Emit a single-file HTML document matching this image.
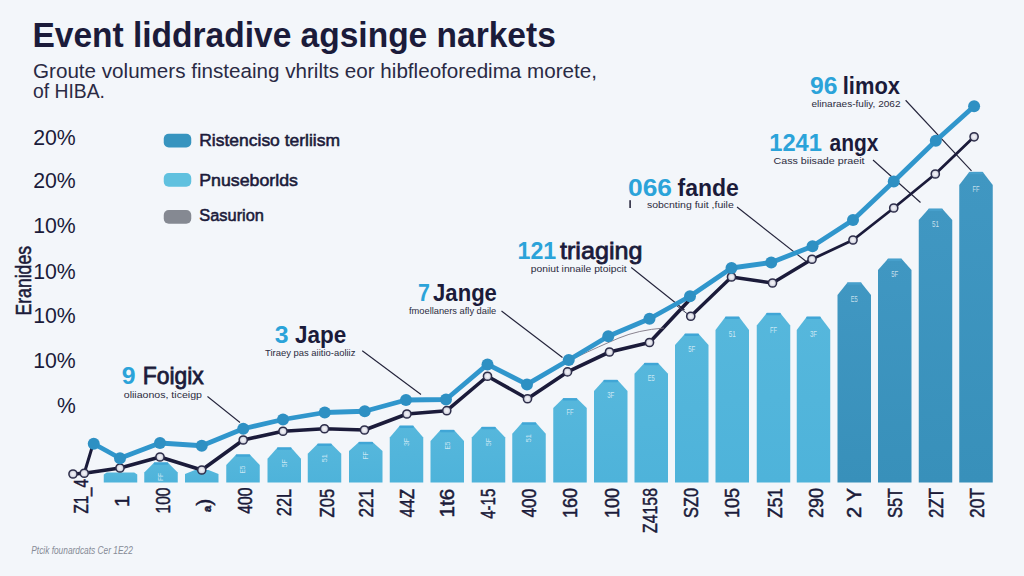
<!DOCTYPE html>
<html><head><meta charset="utf-8"><title>Event chart</title>
<style>
html,body{margin:0;padding:0;background:#f3f6fa;}
body{width:1024px;height:576px;overflow:hidden;font-family:"Liberation Sans",sans-serif;}
svg{display:block;}
text{font-family:"Liberation Sans",sans-serif;}
</style></head><body>
<svg width="1024" height="576" viewBox="0 0 1024 576">
<defs>
<linearGradient id="gl" x1="0" y1="0" x2="0" y2="1"><stop offset="0" stop-color="#56b7dc"/><stop offset="1" stop-color="#4eb3da"/></linearGradient>
<linearGradient id="gd" x1="0" y1="0" x2="0" y2="1"><stop offset="0" stop-color="#4097c2"/><stop offset="1" stop-color="#3890ba"/></linearGradient>
<radialGradient id="mk" cx="0.5" cy="0.5" r="0.5"><stop offset="0" stop-color="#f6f6fa"/><stop offset="0.55" stop-color="#e2e2ea"/><stop offset="1" stop-color="#a9adc0"/></radialGradient>
</defs>
<rect x="0" y="0" width="1024" height="576" fill="#f3f6fa"/>
<text x="32.40" y="46.90" font-size="35" fill="#1b1b3a" font-weight="bold" font-style="normal" textLength="523.40" lengthAdjust="spacingAndGlyphs">Event liddradive agsinge narkets</text>
<text x="33.00" y="78.00" font-size="20.5" fill="#2a2a44" font-weight="normal" font-style="normal" textLength="564.00" lengthAdjust="spacingAndGlyphs">Groute volumers finsteaing vhrilts eor hibfleoforedima morete,</text>
<text x="33.00" y="97.80" font-size="20.5" fill="#2a2a44" font-weight="normal" font-style="normal" textLength="72.00" lengthAdjust="spacingAndGlyphs">of HIBA.</text>
<text x="33.20" y="144.50" font-size="21.5" fill="#1b1b3a" font-weight="normal" font-style="normal" textLength="42.60" lengthAdjust="spacingAndGlyphs">20%</text>
<text x="33.20" y="188.25" font-size="21.5" fill="#1b1b3a" font-weight="normal" font-style="normal" textLength="42.60" lengthAdjust="spacingAndGlyphs">20%</text>
<text x="33.20" y="233.25" font-size="21.5" fill="#1b1b3a" font-weight="normal" font-style="normal" textLength="42.60" lengthAdjust="spacingAndGlyphs">10%</text>
<text x="33.20" y="278.50" font-size="21.5" fill="#1b1b3a" font-weight="normal" font-style="normal" textLength="42.60" lengthAdjust="spacingAndGlyphs">10%</text>
<text x="33.20" y="322.90" font-size="21.5" fill="#1b1b3a" font-weight="normal" font-style="normal" textLength="42.60" lengthAdjust="spacingAndGlyphs">10%</text>
<text x="33.20" y="368.40" font-size="21.5" fill="#1b1b3a" font-weight="normal" font-style="normal" textLength="42.60" lengthAdjust="spacingAndGlyphs">10%</text>
<text x="57.00" y="412.80" font-size="21.5" fill="#1b1b3a" font-weight="normal" font-style="normal" textLength="18.80" lengthAdjust="spacingAndGlyphs">%</text>
<g transform="translate(31,315.5) rotate(-90)"><text x="0.00" y="0.00" font-size="22" fill="#1b1b3a" font-weight="normal" font-style="normal" textLength="69.50" lengthAdjust="spacingAndGlyphs" stroke="#1b1b3a" stroke-width="0.55">Eranides</text></g>
<rect x="163.75" y="133.75" width="27.5" height="13.75" rx="5" ry="5" fill="#3794bf"/>
<text x="199.25" y="146.25" font-size="16.8" fill="#1b1b3a" font-weight="normal" font-style="normal" textLength="140.75" lengthAdjust="spacingAndGlyphs" stroke="#1b1b3a" stroke-width="0.55">Ristenciso terliism</text>
<rect x="163.75" y="173.00" width="27.5" height="13.75" rx="5" ry="5" fill="#60c1df"/>
<text x="199.25" y="185.50" font-size="16.8" fill="#1b1b3a" font-weight="normal" font-style="normal" textLength="98.75" lengthAdjust="spacingAndGlyphs" stroke="#1b1b3a" stroke-width="0.55">Pnuseborlds</text>
<rect x="163.75" y="210.00" width="27.5" height="13.75" rx="5" ry="5" fill="#858992"/>
<text x="199.25" y="221.25" font-size="16.8" fill="#1b1b3a" font-weight="normal" font-style="normal" textLength="64.75" lengthAdjust="spacingAndGlyphs" stroke="#1b1b3a" stroke-width="0.55">Sasurion</text>
<polygon points="103.75,482.50 103.75,474.50 106.75,472.50 134.25,472.50 137.25,474.50 137.25,482.50" fill="url(#gl)"/>
<polygon points="144.25,482.50 144.25,472.50 154.25,462.50 167.75,462.50 177.75,472.50 177.75,482.50" fill="url(#gl)"/>
<rect x="153.75" y="462.20" width="14.50" height="2.6" rx="1" fill="#3aa0d4" fill-opacity="0.75"/>
<g transform="translate(163.40,477.00) rotate(-90)"><text x="0" y="0" font-size="7" fill="#ffffff" fill-opacity="0.7" text-anchor="middle" textLength="8" lengthAdjust="spacingAndGlyphs">FF</text></g>
<polygon points="185.00,482.50 185.00,474.00 195.00,470.00 208.50,470.00 218.50,474.00 218.50,482.50" fill="url(#gl)"/>
<polygon points="226.25,482.50 226.25,465.00 236.25,454.50 249.75,454.50 259.75,465.00 259.75,482.50" fill="url(#gl)"/>
<rect x="235.75" y="454.20" width="14.50" height="2.6" rx="1" fill="#3aa0d4" fill-opacity="0.75"/>
<g transform="translate(245.40,469.50) rotate(-90)"><text x="0" y="0" font-size="7" fill="#ffffff" fill-opacity="0.7" text-anchor="middle" textLength="8" lengthAdjust="spacingAndGlyphs">E5</text></g>
<polygon points="267.50,482.50 267.50,458.75 277.50,447.50 291.00,447.50 301.00,458.75 301.00,482.50" fill="url(#gl)"/>
<rect x="277.00" y="447.20" width="14.50" height="2.6" rx="1" fill="#3aa0d4" fill-opacity="0.75"/>
<g transform="translate(286.65,463.25) rotate(-90)"><text x="0" y="0" font-size="7" fill="#ffffff" fill-opacity="0.7" text-anchor="middle" textLength="8" lengthAdjust="spacingAndGlyphs">5F</text></g>
<polygon points="307.75,482.50 307.75,453.75 317.75,443.75 331.25,443.75 341.25,453.75 341.25,482.50" fill="url(#gl)"/>
<rect x="317.25" y="443.45" width="14.50" height="2.6" rx="1" fill="#3aa0d4" fill-opacity="0.75"/>
<g transform="translate(326.90,458.25) rotate(-90)"><text x="0" y="0" font-size="7" fill="#ffffff" fill-opacity="0.7" text-anchor="middle" textLength="8" lengthAdjust="spacingAndGlyphs">51</text></g>
<polygon points="349.00,482.50 349.00,451.00 359.00,442.00 372.50,442.00 382.50,451.00 382.50,482.50" fill="url(#gl)"/>
<rect x="358.50" y="441.70" width="14.50" height="2.6" rx="1" fill="#3aa0d4" fill-opacity="0.75"/>
<g transform="translate(368.15,455.50) rotate(-90)"><text x="0" y="0" font-size="7" fill="#ffffff" fill-opacity="0.7" text-anchor="middle" textLength="8" lengthAdjust="spacingAndGlyphs">FF</text></g>
<polygon points="389.75,482.50 389.75,437.50 399.75,425.75 413.25,425.75 423.25,437.50 423.25,482.50" fill="url(#gl)"/>
<rect x="399.25" y="425.45" width="14.50" height="2.6" rx="1" fill="#3aa0d4" fill-opacity="0.75"/>
<g transform="translate(408.90,442.00) rotate(-90)"><text x="0" y="0" font-size="7" fill="#ffffff" fill-opacity="0.7" text-anchor="middle" textLength="8" lengthAdjust="spacingAndGlyphs">3F</text></g>
<polygon points="430.50,482.50 430.50,441.00 440.50,430.00 454.00,430.00 464.00,441.00 464.00,482.50" fill="url(#gl)"/>
<rect x="440.00" y="429.70" width="14.50" height="2.6" rx="1" fill="#3aa0d4" fill-opacity="0.75"/>
<g transform="translate(449.65,445.50) rotate(-90)"><text x="0" y="0" font-size="7" fill="#ffffff" fill-opacity="0.7" text-anchor="middle" textLength="8" lengthAdjust="spacingAndGlyphs">E5</text></g>
<polygon points="471.75,482.50 471.75,437.50 481.75,427.00 495.25,427.00 505.25,437.50 505.25,482.50" fill="url(#gl)"/>
<rect x="481.25" y="426.70" width="14.50" height="2.6" rx="1" fill="#3aa0d4" fill-opacity="0.75"/>
<g transform="translate(490.90,442.00) rotate(-90)"><text x="0" y="0" font-size="7" fill="#ffffff" fill-opacity="0.7" text-anchor="middle" textLength="8" lengthAdjust="spacingAndGlyphs">5F</text></g>
<polygon points="512.25,482.50 512.25,433.75 522.25,422.50 535.75,422.50 545.75,433.75 545.75,482.50" fill="url(#gl)"/>
<rect x="521.75" y="422.20" width="14.50" height="2.6" rx="1" fill="#3aa0d4" fill-opacity="0.75"/>
<g transform="translate(531.40,438.25) rotate(-90)"><text x="0" y="0" font-size="7" fill="#ffffff" fill-opacity="0.7" text-anchor="middle" textLength="8" lengthAdjust="spacingAndGlyphs">51</text></g>
<polygon points="553.25,482.50 553.25,408.00 563.25,398.25 576.75,398.25 586.75,408.00 586.75,482.50" fill="url(#gl)"/>
<rect x="562.75" y="397.95" width="14.50" height="2.6" rx="1" fill="#3aa0d4" fill-opacity="0.75"/>
<text x="570.00" y="415.00" font-size="9" fill="#ffffff" fill-opacity="0.7" text-anchor="middle" textLength="7" lengthAdjust="spacingAndGlyphs">FF</text>
<polygon points="594.00,482.50 594.00,391.00 604.00,380.00 617.50,380.00 627.50,391.00 627.50,482.50" fill="url(#gl)"/>
<rect x="603.50" y="379.70" width="14.50" height="2.6" rx="1" fill="#3aa0d4" fill-opacity="0.75"/>
<text x="610.75" y="398.00" font-size="9" fill="#ffffff" fill-opacity="0.7" text-anchor="middle" textLength="7" lengthAdjust="spacingAndGlyphs">3F</text>
<polygon points="634.50,482.50 634.50,373.75 644.50,363.00 658.00,363.00 668.00,373.75 668.00,482.50" fill="url(#gl)"/>
<rect x="644.00" y="362.70" width="14.50" height="2.6" rx="1" fill="#3aa0d4" fill-opacity="0.75"/>
<text x="651.25" y="380.75" font-size="9" fill="#ffffff" fill-opacity="0.7" text-anchor="middle" textLength="7" lengthAdjust="spacingAndGlyphs">E5</text>
<polygon points="675.00,482.50 675.00,345.00 685.00,333.75 698.50,333.75 708.50,345.00 708.50,482.50" fill="url(#gl)"/>
<rect x="684.50" y="333.45" width="14.50" height="2.6" rx="1" fill="#3aa0d4" fill-opacity="0.75"/>
<text x="691.75" y="352.00" font-size="9" fill="#ffffff" fill-opacity="0.7" text-anchor="middle" textLength="7" lengthAdjust="spacingAndGlyphs">5F</text>
<polygon points="715.50,482.50 715.50,330.00 725.50,316.75 739.00,316.75 749.00,330.00 749.00,482.50" fill="url(#gl)"/>
<rect x="725.00" y="316.45" width="14.50" height="2.6" rx="1" fill="#3aa0d4" fill-opacity="0.75"/>
<text x="732.25" y="337.00" font-size="9" fill="#ffffff" fill-opacity="0.7" text-anchor="middle" textLength="7" lengthAdjust="spacingAndGlyphs">51</text>
<polygon points="756.75,482.50 756.75,325.50 766.75,313.00 780.25,313.00 790.25,325.50 790.25,482.50" fill="url(#gl)"/>
<rect x="766.25" y="312.70" width="14.50" height="2.6" rx="1" fill="#3aa0d4" fill-opacity="0.75"/>
<text x="773.50" y="332.50" font-size="9" fill="#ffffff" fill-opacity="0.7" text-anchor="middle" textLength="7" lengthAdjust="spacingAndGlyphs">FF</text>
<polygon points="796.75,482.50 796.75,330.00 806.75,316.75 820.25,316.75 830.25,330.00 830.25,482.50" fill="url(#gl)"/>
<rect x="806.25" y="316.45" width="14.50" height="2.6" rx="1" fill="#3aa0d4" fill-opacity="0.75"/>
<text x="813.50" y="337.00" font-size="9" fill="#ffffff" fill-opacity="0.7" text-anchor="middle" textLength="7" lengthAdjust="spacingAndGlyphs">3F</text>
<polygon points="837.50,482.50 837.50,295.00 847.50,282.50 861.00,282.50 871.00,295.00 871.00,482.50" fill="url(#gd)"/>
<rect x="847.00" y="282.20" width="14.50" height="2.6" rx="1" fill="#4aa3cf" fill-opacity="0.75"/>
<text x="854.25" y="302.00" font-size="9" fill="#ffffff" fill-opacity="0.7" text-anchor="middle" textLength="7" lengthAdjust="spacingAndGlyphs">E5</text>
<polygon points="878.00,482.50 878.00,270.00 888.00,258.75 901.50,258.75 911.50,270.00 911.50,482.50" fill="url(#gd)"/>
<rect x="887.50" y="258.45" width="14.50" height="2.6" rx="1" fill="#4aa3cf" fill-opacity="0.75"/>
<text x="894.75" y="277.00" font-size="9" fill="#ffffff" fill-opacity="0.7" text-anchor="middle" textLength="7" lengthAdjust="spacingAndGlyphs">5F</text>
<polygon points="918.75,482.50 918.75,220.00 928.75,208.75 942.25,208.75 952.25,220.00 952.25,482.50" fill="url(#gd)"/>
<rect x="928.25" y="208.45" width="14.50" height="2.6" rx="1" fill="#4aa3cf" fill-opacity="0.75"/>
<text x="935.50" y="227.00" font-size="9" fill="#ffffff" fill-opacity="0.7" text-anchor="middle" textLength="7" lengthAdjust="spacingAndGlyphs">51</text>
<polygon points="959.25,482.50 959.25,185.00 969.25,172.00 982.75,172.00 992.75,185.00 992.75,482.50" fill="url(#gd)"/>
<rect x="968.75" y="171.70" width="14.50" height="2.6" rx="1" fill="#4aa3cf" fill-opacity="0.75"/>
<text x="976.00" y="192.00" font-size="9" fill="#ffffff" fill-opacity="0.7" text-anchor="middle" textLength="7" lengthAdjust="spacingAndGlyphs">FF</text>
<line x1="207.50" y1="396.50" x2="240.00" y2="422.50" stroke="#23233a" stroke-width="1.1"/>
<line x1="362.25" y1="350.75" x2="421.00" y2="394.50" stroke="#23233a" stroke-width="1.1"/>
<line x1="501.50" y1="311.00" x2="562.50" y2="357.50" stroke="#23233a" stroke-width="1.1"/>
<line x1="631.25" y1="267.50" x2="684.50" y2="310.00" stroke="#23233a" stroke-width="1.1"/>
<line x1="737.00" y1="207.00" x2="807.50" y2="262.50" stroke="#23233a" stroke-width="1.1"/>
<line x1="873.00" y1="160.00" x2="920.50" y2="202.50" stroke="#23233a" stroke-width="1.1"/>
<line x1="905.60" y1="100.25" x2="971.50" y2="170.80" stroke="#23233a" stroke-width="1.1"/>
<polyline points="73.00,474.00 84.25,473.25 120.00,468.00 160.00,457.00 201.75,470.00 243.25,440.00 283.00,431.25 324.50,428.75 364.50,430.00 406.90,414.00 446.75,410.70 487.50,376.25 527.50,398.75 567.50,371.90 609.50,352.00 649.50,342.50 688.00,301.50" fill="none" stroke="#1b1b3a" stroke-width="3.6" stroke-linejoin="round" stroke-linecap="round"/>
<polyline points="690.75,316.25 731.50,277.00 772.50,283.00 812.00,259.25" fill="none" stroke="#1b1b3a" stroke-width="3.3" stroke-linejoin="round" stroke-linecap="round"/>
<polyline points="812.00,259.25 853.00,240.00 893.75,208.00 935.30,174.00 974.10,136.80" fill="none" stroke="#1b1b3a" stroke-width="2.8" stroke-linejoin="round" stroke-linecap="round"/>
<line x1="677" y1="306" x2="690.3" y2="316" stroke="#3a3a55" stroke-width="1"/>
<path d="M575.7,357.5 Q600,346 619,338 T664,328" fill="none" stroke="#7d7683" stroke-width="0.9"/>
<line x1="84.25" y1="473.25" x2="92.5" y2="446" stroke="#1b1b3a" stroke-width="3.0" stroke-linecap="round"/>
<polyline points="93.75,443.75 120.00,458.25 160.00,443.00 201.75,445.75 243.25,428.75 283.00,419.50 324.75,412.50 364.75,411.25 406.00,400.00 446.00,399.50 487.50,364.40 527.00,384.40 568.75,360.00 608.25,336.25 649.50,318.75 690.00,296.25 731.50,268.00 771.25,262.50 812.50,246.25 853.00,220.00 893.75,181.50 935.80,140.80 974.10,106.25" fill="none" stroke="#3096cc" stroke-width="4.8" stroke-linejoin="round" stroke-linecap="round"/>
<circle cx="73.00" cy="474.00" r="4.1" fill="url(#mk)" stroke="#2e2e4a" stroke-width="1.5"/>
<circle cx="84.25" cy="473.25" r="4.1" fill="url(#mk)" stroke="#2e2e4a" stroke-width="1.5"/>
<circle cx="120.00" cy="468.00" r="4.1" fill="url(#mk)" stroke="#2e2e4a" stroke-width="1.5"/>
<circle cx="160.00" cy="457.00" r="4.1" fill="url(#mk)" stroke="#2e2e4a" stroke-width="1.5"/>
<circle cx="201.75" cy="470.00" r="4.1" fill="url(#mk)" stroke="#2e2e4a" stroke-width="1.5"/>
<circle cx="243.25" cy="440.00" r="4.1" fill="url(#mk)" stroke="#2e2e4a" stroke-width="1.5"/>
<circle cx="283.00" cy="431.25" r="4.1" fill="url(#mk)" stroke="#2e2e4a" stroke-width="1.5"/>
<circle cx="324.50" cy="428.75" r="4.1" fill="url(#mk)" stroke="#2e2e4a" stroke-width="1.5"/>
<circle cx="364.50" cy="430.00" r="4.1" fill="url(#mk)" stroke="#2e2e4a" stroke-width="1.5"/>
<circle cx="406.90" cy="414.00" r="4.1" fill="url(#mk)" stroke="#2e2e4a" stroke-width="1.5"/>
<circle cx="446.75" cy="410.70" r="4.1" fill="url(#mk)" stroke="#2e2e4a" stroke-width="1.5"/>
<circle cx="487.50" cy="376.25" r="4.1" fill="url(#mk)" stroke="#2e2e4a" stroke-width="1.5"/>
<circle cx="527.50" cy="398.75" r="4.1" fill="url(#mk)" stroke="#2e2e4a" stroke-width="1.5"/>
<circle cx="567.50" cy="371.90" r="4.1" fill="url(#mk)" stroke="#2e2e4a" stroke-width="1.5"/>
<circle cx="609.50" cy="352.00" r="4.1" fill="url(#mk)" stroke="#2e2e4a" stroke-width="1.5"/>
<circle cx="649.50" cy="342.50" r="4.1" fill="url(#mk)" stroke="#2e2e4a" stroke-width="1.5"/>
<circle cx="690.75" cy="316.25" r="4.1" fill="url(#mk)" stroke="#2e2e4a" stroke-width="1.5"/>
<circle cx="731.50" cy="277.00" r="4.1" fill="url(#mk)" stroke="#2e2e4a" stroke-width="1.5"/>
<circle cx="772.50" cy="283.00" r="4.1" fill="url(#mk)" stroke="#2e2e4a" stroke-width="1.5"/>
<circle cx="812.00" cy="259.25" r="4.1" fill="url(#mk)" stroke="#2e2e4a" stroke-width="1.5"/>
<circle cx="853.00" cy="240.00" r="4.1" fill="url(#mk)" stroke="#2e2e4a" stroke-width="1.5"/>
<circle cx="893.75" cy="208.00" r="4.1" fill="url(#mk)" stroke="#2e2e4a" stroke-width="1.5"/>
<circle cx="935.30" cy="174.00" r="4.1" fill="url(#mk)" stroke="#2e2e4a" stroke-width="1.5"/>
<circle cx="974.10" cy="136.80" r="4.1" fill="url(#mk)" stroke="#2e2e4a" stroke-width="1.5"/>
<circle cx="93.75" cy="443.75" r="6.0" fill="#2e90c3"/>
<circle cx="120.00" cy="458.25" r="6.0" fill="#2e90c3"/>
<circle cx="160.00" cy="443.00" r="6.0" fill="#2e90c3"/>
<circle cx="201.75" cy="445.75" r="6.0" fill="#2e90c3"/>
<circle cx="243.25" cy="428.75" r="6.0" fill="#2e90c3"/>
<circle cx="283.00" cy="419.50" r="6.0" fill="#2e90c3"/>
<circle cx="324.75" cy="412.50" r="6.0" fill="#2e90c3"/>
<circle cx="364.75" cy="411.25" r="6.0" fill="#2e90c3"/>
<circle cx="406.00" cy="400.00" r="6.0" fill="#2e90c3"/>
<circle cx="446.00" cy="399.50" r="6.0" fill="#2e90c3"/>
<circle cx="487.50" cy="364.40" r="6.0" fill="#2e90c3"/>
<circle cx="527.00" cy="384.40" r="6.0" fill="#2e90c3"/>
<circle cx="568.75" cy="360.00" r="6.0" fill="#2e90c3"/>
<circle cx="608.25" cy="336.25" r="6.0" fill="#2e90c3"/>
<circle cx="649.50" cy="318.75" r="6.0" fill="#2e90c3"/>
<circle cx="690.00" cy="296.25" r="6.0" fill="#2e90c3"/>
<circle cx="731.50" cy="268.00" r="6.0" fill="#2e90c3"/>
<circle cx="771.25" cy="262.50" r="6.0" fill="#2e90c3"/>
<circle cx="812.50" cy="246.25" r="6.0" fill="#2e90c3"/>
<circle cx="853.00" cy="220.00" r="6.0" fill="#2e90c3"/>
<circle cx="893.75" cy="181.50" r="6.0" fill="#2e90c3"/>
<circle cx="935.80" cy="140.80" r="6.0" fill="#2e90c3"/>
<circle cx="974.10" cy="106.25" r="6.0" fill="#2e90c3"/>
<text x="121.80" y="384.30" font-size="24.5" fill="#2ba3d9" font-weight="bold" font-style="normal" textLength="13.80" lengthAdjust="spacingAndGlyphs">9</text>
<text x="142.75" y="384.30" font-size="24.5" fill="#1b1b3a" font-weight="normal" font-style="normal" textLength="61.00" lengthAdjust="spacingAndGlyphs" stroke="#1b1b3a" stroke-width="0.8">Foigix</text>
<text x="123.75" y="398.00" font-size="9.8" fill="#2b2b40" font-weight="normal" font-style="normal" textLength="78.15" lengthAdjust="spacingAndGlyphs">oliiaonos, ticeigp</text>
<text x="274.80" y="343.00" font-size="24.5" fill="#2ba3d9" font-weight="bold" font-style="normal" textLength="13.80" lengthAdjust="spacingAndGlyphs">3</text>
<text x="295.00" y="343.00" font-size="24.5" fill="#1b1b3a" font-weight="bold" font-style="normal" textLength="51.30" lengthAdjust="spacingAndGlyphs">Jape</text>
<text x="265.00" y="355.70" font-size="9.8" fill="#2b2b40" font-weight="normal" font-style="normal" textLength="90.40" lengthAdjust="spacingAndGlyphs">Tiraey pas aiitio-aoliiz</text>
<text x="418.10" y="301.10" font-size="24.5" fill="#2ba3d9" font-weight="bold" font-style="normal" textLength="11.90" lengthAdjust="spacingAndGlyphs">7</text>
<text x="433.10" y="301.10" font-size="24.5" fill="#1b1b3a" font-weight="bold" font-style="normal" textLength="63.80" lengthAdjust="spacingAndGlyphs">Jange</text>
<text x="409.00" y="314.30" font-size="9.8" fill="#2b2b40" font-weight="normal" font-style="normal" textLength="87.25" lengthAdjust="spacingAndGlyphs">fmoellaners afly daile</text>
<text x="517.50" y="258.75" font-size="24.5" fill="#2ba3d9" font-weight="bold" font-style="normal" textLength="38.75" lengthAdjust="spacingAndGlyphs">121</text>
<text x="560.00" y="258.75" font-size="24.5" fill="#1b1b3a" font-weight="normal" font-style="normal" textLength="82.50" lengthAdjust="spacingAndGlyphs" stroke="#1b1b3a" stroke-width="0.8">triaging</text>
<text x="530.80" y="271.50" font-size="9.8" fill="#2b2b40" font-weight="normal" font-style="normal" textLength="95.90" lengthAdjust="spacingAndGlyphs">poniut innaile ptoipcit</text>
<text x="628.00" y="195.70" font-size="24.5" fill="#2ba3d9" font-weight="bold" font-style="normal" textLength="44.00" lengthAdjust="spacingAndGlyphs">066</text>
<text x="677.50" y="195.70" font-size="24.5" fill="#1b1b3a" font-weight="bold" font-style="normal" textLength="61.40" lengthAdjust="spacingAndGlyphs">fande</text>
<text x="646.90" y="208.20" font-size="9.8" fill="#2b2b40" font-weight="normal" font-style="normal" textLength="86.85" lengthAdjust="spacingAndGlyphs">sobcnting fuit ,fuile</text>
<text x="769.25" y="151.20" font-size="24.5" fill="#2ba3d9" font-weight="bold" font-style="normal" textLength="52.75" lengthAdjust="spacingAndGlyphs">1241</text>
<text x="829.50" y="151.20" font-size="24.5" fill="#1b1b3a" font-weight="bold" font-style="normal" textLength="49.00" lengthAdjust="spacingAndGlyphs">angx</text>
<text x="773.50" y="163.50" font-size="9.8" fill="#2b2b40" font-weight="normal" font-style="normal" textLength="91.00" lengthAdjust="spacingAndGlyphs">Cass biisade praeit</text>
<text x="810.00" y="93.60" font-size="24.5" fill="#2ba3d9" font-weight="bold" font-style="normal" textLength="27.50" lengthAdjust="spacingAndGlyphs">96</text>
<text x="842.75" y="93.60" font-size="24.5" fill="#1b1b3a" font-weight="bold" font-style="normal" textLength="57.25" lengthAdjust="spacingAndGlyphs">limox</text>
<text x="811.50" y="106.70" font-size="9.8" fill="#2b2b40" font-weight="normal" font-style="normal" textLength="89.00" lengthAdjust="spacingAndGlyphs">elinaraes-fuliy, 2062</text>
<rect x="629.3" y="200.2" width="1.6" height="7.8" fill="#2b2b40"/>
<g transform="translate(88.30,513.60) rotate(-90)"><text x="0" y="0" font-size="20.5" fill="#1b1b3a" stroke="#1b1b3a" stroke-width="0.5" textLength="34.60" lengthAdjust="spacingAndGlyphs">Z1_4</text></g>
<g transform="translate(128.90,507.00) rotate(-90)"><text x="0" y="0" font-size="20.5" fill="#1b1b3a" stroke="#1b1b3a" stroke-width="0.5" textLength="11.40" lengthAdjust="spacingAndGlyphs">1</text></g>
<g transform="translate(169.90,513.50) rotate(-90)"><text x="0" y="0" font-size="20.5" fill="#1b1b3a" stroke="#1b1b3a" stroke-width="0.5" textLength="26.00" lengthAdjust="spacingAndGlyphs">100</text></g>
<g transform="translate(210.50,512.00) rotate(-90)"><text x="0" y="0" font-size="20.5" fill="#1b1b3a" stroke="#1b1b3a" stroke-width="0.5" textLength="13.10" lengthAdjust="spacingAndGlyphs"><tspan font-size="11" font-weight="bold">a</tspan>)</text></g>
<g transform="translate(252.30,513.75) rotate(-90)"><text x="0" y="0" font-size="20.5" fill="#1b1b3a" stroke="#1b1b3a" stroke-width="0.5" textLength="26.25" lengthAdjust="spacingAndGlyphs">400</text></g>
<g transform="translate(291.30,516.25) rotate(-90)"><text x="0" y="0" font-size="20.5" fill="#1b1b3a" stroke="#1b1b3a" stroke-width="0.5" textLength="27.50" lengthAdjust="spacingAndGlyphs">22L</text></g>
<g transform="translate(334.30,517.50) rotate(-90)"><text x="0" y="0" font-size="20.5" fill="#1b1b3a" stroke="#1b1b3a" stroke-width="0.5" textLength="28.75" lengthAdjust="spacingAndGlyphs">Z05</text></g>
<g transform="translate(373.30,517.50) rotate(-90)"><text x="0" y="0" font-size="20.5" fill="#1b1b3a" stroke="#1b1b3a" stroke-width="0.5" textLength="28.75" lengthAdjust="spacingAndGlyphs">221</text></g>
<g transform="translate(414.30,517.50) rotate(-90)"><text x="0" y="0" font-size="20.5" fill="#1b1b3a" stroke="#1b1b3a" stroke-width="0.5" textLength="28.75" lengthAdjust="spacingAndGlyphs">44Z</text></g>
<g transform="translate(454.30,517.50) rotate(-90)"><text x="0" y="0" font-size="20.5" fill="#1b1b3a" stroke="#1b1b3a" stroke-width="0.5" textLength="28.75" lengthAdjust="spacingAndGlyphs">1t6</text></g>
<g transform="translate(495.30,518.75) rotate(-90)"><text x="0" y="0" font-size="20.5" fill="#1b1b3a" stroke="#1b1b3a" stroke-width="0.5" textLength="30.00" lengthAdjust="spacingAndGlyphs">4-15</text></g>
<g transform="translate(535.80,517.50) rotate(-90)"><text x="0" y="0" font-size="20.5" fill="#1b1b3a" stroke="#1b1b3a" stroke-width="0.5" textLength="28.75" lengthAdjust="spacingAndGlyphs">400</text></g>
<g transform="translate(576.80,518.00) rotate(-90)"><text x="0" y="0" font-size="20.5" fill="#1b1b3a" stroke="#1b1b3a" stroke-width="0.5" textLength="30.00" lengthAdjust="spacingAndGlyphs">160</text></g>
<g transform="translate(619.30,518.00) rotate(-90)"><text x="0" y="0" font-size="20.5" fill="#1b1b3a" stroke="#1b1b3a" stroke-width="0.5" textLength="30.00" lengthAdjust="spacingAndGlyphs">100</text></g>
<g transform="translate(656.80,533.00) rotate(-90)"><text x="0" y="0" font-size="20.5" fill="#1b1b3a" stroke="#1b1b3a" stroke-width="0.5" textLength="45.00" lengthAdjust="spacingAndGlyphs">Z4158</text></g>
<g transform="translate(698.30,518.00) rotate(-90)"><text x="0" y="0" font-size="20.5" fill="#1b1b3a" stroke="#1b1b3a" stroke-width="0.5" textLength="30.00" lengthAdjust="spacingAndGlyphs">SZ0</text></g>
<g transform="translate(739.30,518.00) rotate(-90)"><text x="0" y="0" font-size="20.5" fill="#1b1b3a" stroke="#1b1b3a" stroke-width="0.5" textLength="30.00" lengthAdjust="spacingAndGlyphs">105</text></g>
<g transform="translate(781.80,518.00) rotate(-90)"><text x="0" y="0" font-size="20.5" fill="#1b1b3a" stroke="#1b1b3a" stroke-width="0.5" textLength="30.00" lengthAdjust="spacingAndGlyphs">Z51</text></g>
<g transform="translate(823.30,518.00) rotate(-90)"><text x="0" y="0" font-size="20.5" fill="#1b1b3a" stroke="#1b1b3a" stroke-width="0.5" textLength="30.00" lengthAdjust="spacingAndGlyphs">290</text></g>
<g transform="translate(860.80,518.00) rotate(-90)"><text x="0" y="0" font-size="20.5" fill="#1b1b3a" stroke="#1b1b3a" stroke-width="0.5" textLength="30.00" lengthAdjust="spacingAndGlyphs">2 Y</text></g>
<g transform="translate(901.80,518.00) rotate(-90)"><text x="0" y="0" font-size="20.5" fill="#1b1b3a" stroke="#1b1b3a" stroke-width="0.5" textLength="30.00" lengthAdjust="spacingAndGlyphs">S5T</text></g>
<g transform="translate(943.30,518.00) rotate(-90)"><text x="0" y="0" font-size="20.5" fill="#1b1b3a" stroke="#1b1b3a" stroke-width="0.5" textLength="30.00" lengthAdjust="spacingAndGlyphs">2ZT</text></g>
<g transform="translate(984.30,518.00) rotate(-90)"><text x="0" y="0" font-size="20.5" fill="#1b1b3a" stroke="#1b1b3a" stroke-width="0.5" textLength="30.00" lengthAdjust="spacingAndGlyphs">20T</text></g>
<text x="31.25" y="553.60" font-size="11" fill="#868b96" font-weight="normal" font-style="italic" textLength="101.55" lengthAdjust="spacingAndGlyphs">Ptcik founardcats Cer 1E22</text>
</svg>
</body></html>
